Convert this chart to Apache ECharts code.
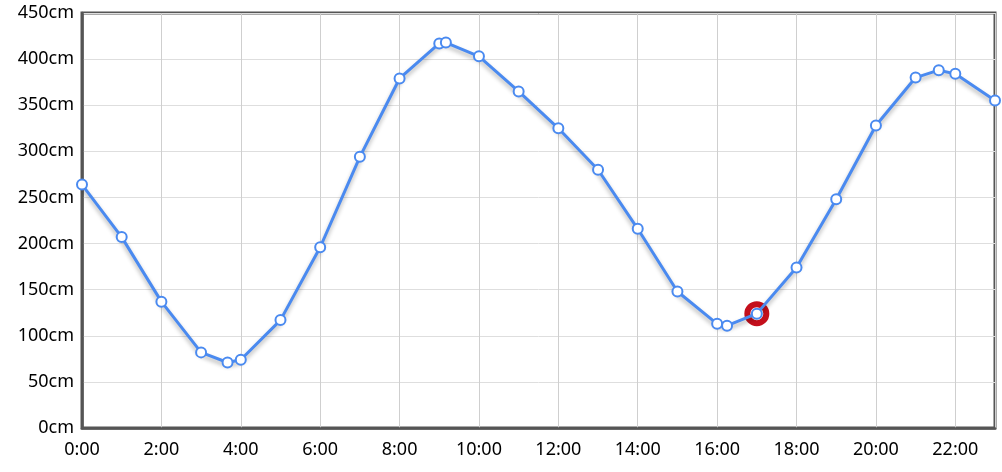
<!DOCTYPE html>
<html>
<head>
<meta charset="utf-8">
<title>潮汐</title>
<script src="https://cdn.jsdelivr.net/npm/echarts@6/dist/echarts.min.js"></script>
<style>
  html, body { margin: 0; padding: 0; background: #fff; }
  #tide { width: 1002px; height: 472px; }
</style>
</head>
<body>
<div id="tide"></div>
<script>
// 时间点与潮高 (cm)
const times = ['0:00', '1:00', '2:00', '3:00', '3:40', '4:00', '5:00', '6:00', '7:00', '8:00',
  '9:00', '9:10', '10:00', '11:00', '12:00', '13:00', '14:00', '15:00', '16:00', '16:15',
  '17:00', '18:00', '19:00', '20:00', '21:00', '21:35', '22:00', '23:00']
const heights = [264, 207, 137, 82, 71, 74, 117, 196, 294, 379,
  417, 418, 403, 365, 325, 280, 216, 148, 113, 111,
  124, 174, 248, 328, 380, 388, 384, 355]
// 当前时刻
const nowTime = '17:00'
const nowHeight = 124

const toHour = t => {
  const [h, m] = t.split(':').map(Number)
  return h + m / 60
}

const myChart = echarts.init(document.getElementById('tide'))
const font = 'Noto Sans'
const option = {
  animation: false,
  grid: {
    left: 82,
    right: 7,
    top: 13,
    bottom: 44,
    show: true,
    borderColor: '#555',
    borderWidth: 3
  },
  xAxis: {
    type: 'value',
    min: 0,
    max: 23,
    interval: 2,
    axisLine: { show: true, lineStyle: { color: '#555', width: 2.5 } },
    axisTick: { show: false },
    splitLine: { show: true, lineStyle: { color: '#cfcfcf' } },
    axisLabel: {
      color: '#000',
      fontFamily: font,
      fontSize: 18,
      margin: 13,
      formatter: v => (v === 23 ? '' : v + ':00')
    }
  },
  yAxis: {
    type: 'value',
    min: 0,
    max: 450,
    interval: 50,
    axisLine: { show: true, lineStyle: { color: '#555', width: 2.5 } },
    axisTick: { show: false },
    splitLine: { show: true, lineStyle: { color: '#dedede' } },
    axisLabel: {
      color: '#000',
      fontFamily: font,
      fontSize: 18,
      margin: 8,
      formatter: '{value}cm'
    }
  },
  series: [
    {
      type: 'scatter',
      z: 1,
      symbol: 'circle',
      symbolSize: 19,
      itemStyle: { color: '#fff', borderColor: '#c40f1c', borderWidth: 6, opacity: 1 },
      data: [[toHour(nowTime), nowHeight]]
    },
    {
      type: 'line',
      z: 3,
      symbol: 'emptyCircle',
      symbolSize: 10,
      lineStyle: {
        color: '#4a8af0',
        width: 3,
        shadowColor: 'rgba(0,0,0,0.3)',
        shadowBlur: 4,
        shadowOffsetY: 3
      },
      itemStyle: { color: '#4a8af0', borderWidth: 2.5 },
      data: times.map((t, i) => [toHour(t), heights[i]])
    }
  ]
}
myChart.setOption(option)
</script>
</body>
</html>
